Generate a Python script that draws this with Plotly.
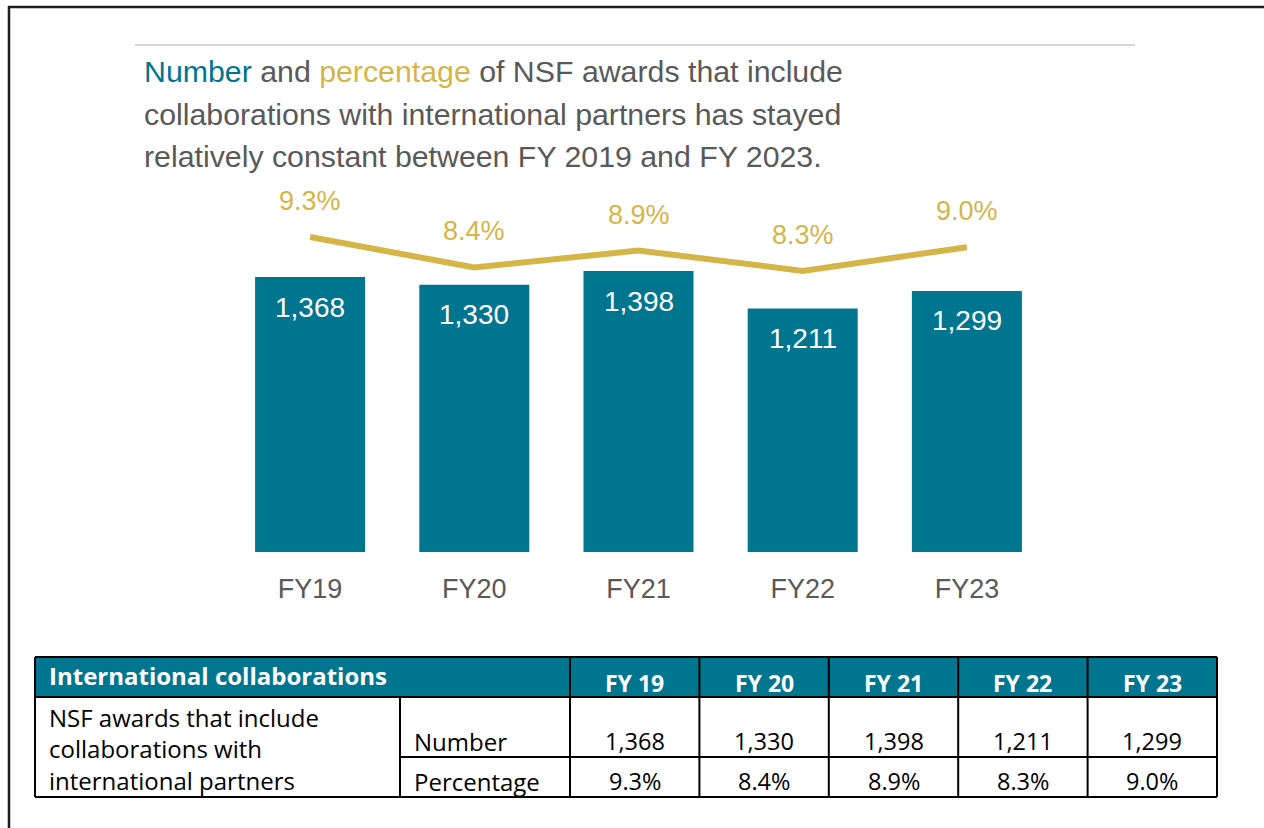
import plotly.graph_objects as go

# ---- data ----
categories = ["FY19", "FY20", "FY21", "FY22", "FY23"]
table_years = ["FY 19", "FY 20", "FY 21", "FY 22", "FY 23"]
award_counts = [1368, 1330, 1398, 1211, 1299]
award_pcts = [9.3, 8.4, 8.9, 8.3, 9.0]

W, H = 1264, 828
TEAL = "#00758F"
GOLD = "#D5B548"
GRAY = "#595959"
NARROW = "Liberation Sans, Arial, sans-serif"
TBLFONT = "Open Sans, Noto Sans, sans-serif"


def px(x):
    return x / W


def py(y):
    return 1 - y / H


fig = go.Figure()

fig.add_trace(go.Bar(
    x=categories, y=award_counts, marker=dict(color=TEAL, line=dict(width=0)),
    yaxis="y", hoverinfo="skip", showlegend=False,
))
fig.add_trace(go.Scatter(
    x=categories, y=award_pcts, mode="lines", yaxis="y2",
    line=dict(color=GOLD, width=6), hoverinfo="skip", showlegend=False,
))

annotations = []
# bar value labels
for c, v in zip(categories, award_counts):
    annotations.append(dict(
        x=c, y=v, xref="x", yref="y", yshift=-30, text=f"{v:,}", showarrow=False,
        font=dict(family=NARROW, size=28, color="white"), xanchor="center", yanchor="middle",
    ))
# percentage labels
for c, p in zip(categories, award_pcts):
    annotations.append(dict(
        x=c, y=p, xref="x", yref="y2", yshift=36, text=f"{p:.1f}%", showarrow=False,
        font=dict(family=NARROW, size=27, color=GOLD), xanchor="center", yanchor="middle",
    ))

# title
title_lines = [
    f"<span style='color:{TEAL}'>Number</span> and <span style='color:{GOLD}'>percentage</span> of NSF awards that include",
    "collaborations with international partners has stayed",
    "relatively constant between FY 2019 and FY 2023.",
]
for i, t in enumerate(title_lines):
    annotations.append(dict(
        x=px(142), y=py(72 + 42.5 * i), xref="paper", yref="paper", text=t, showarrow=False,
        font=dict(family=NARROW, size=30.3, color=GRAY), xanchor="left", yanchor="middle",
    ))

shapes = []
# outer frame
shapes.append(dict(type="line", xref="paper", yref="paper", x0=px(8), x1=px(1266), y0=py(7), y1=py(7),
                   line=dict(color="#1f1f1f", width=2.5)))
shapes.append(dict(type="line", xref="paper", yref="paper", x0=px(9), x1=px(9), y0=py(6), y1=py(830),
                   line=dict(color="#1f1f1f", width=2.5)))
# gray rule above title
shapes.append(dict(type="line", xref="paper", yref="paper", x0=px(135), x1=px(1135), y0=py(45), y1=py(45),
                   line=dict(color="#C9C9C9", width=1.5)))

# ---- table ----
T_L, T_R = 35, 1217
T_TOP, T_HDR, T_MID, T_BOT = 657, 697, 757, 797
C1, C2 = 400, 570
col_edges = [C2 + (T_R - C2) * i / 5 for i in range(6)]

shapes.append(dict(type="rect", xref="paper", yref="paper", x0=px(T_L), x1=px(T_R), y0=py(T_TOP), y1=py(T_HDR),
                   fillcolor=TEAL, line=dict(width=0), layer="below"))
BL = dict(color="black", width=2)


def hline(x0, x1, y):
    shapes.append(dict(type="line", xref="paper", yref="paper", x0=px(x0), x1=px(x1), y0=py(y), y1=py(y), line=BL))


def vline(x, y0, y1):
    shapes.append(dict(type="line", xref="paper", yref="paper", x0=px(x), x1=px(x), y0=py(y0), y1=py(y1), line=BL))


hline(T_L, T_R, T_TOP)
hline(T_L, T_R, T_HDR)
hline(C1, T_R, T_MID)
hline(T_L, T_R, T_BOT)
vline(T_L, T_TOP, T_BOT)
vline(T_R, T_TOP, T_BOT)
vline(C1, T_HDR, T_BOT)
for xe in col_edges[:-1]:
    vline(xe, T_TOP, T_BOT)

annotations.append(dict(
    x=px(47), y=py(675), xref="paper", yref="paper", text="<b>International collaborations</b>",
    showarrow=False, font=dict(family=TBLFONT, size=24, color="white"), xanchor="left", yanchor="middle",
))
for i, yl in enumerate(table_years):
    annotations.append(dict(
        x=px((col_edges[i] + col_edges[i + 1]) / 2), y=py(683), xref="paper", yref="paper",
        text=f"<b>{yl}</b>", showarrow=False, font=dict(family=TBLFONT, size=23, color="white"),
        xanchor="center", yanchor="middle",
    ))
row_label_lines = ["NSF awards that include", "collaborations with", "international partners"]
for i, t in enumerate(row_label_lines):
    annotations.append(dict(
        x=px(47), y=py(717 + 31.5 * i), xref="paper", yref="paper", text=t, showarrow=False,
        font=dict(family=TBLFONT, size=24, color="black"), xanchor="left", yanchor="middle",
    ))
for t, yy in [("Number", 741), ("Percentage", 781)]:
    annotations.append(dict(
        x=px(412), y=py(yy), xref="paper", yref="paper", text=t, showarrow=False,
        font=dict(family=TBLFONT, size=24, color="black"), xanchor="left", yanchor="middle",
    ))
for i in range(5):
    cx = px((col_edges[i] + col_edges[i + 1]) / 2)
    annotations.append(dict(
        x=cx, y=py(741), xref="paper", yref="paper", text=f"{award_counts[i]:,}", showarrow=False,
        font=dict(family=TBLFONT, size=23.5, color="black"), xanchor="center", yanchor="middle",
    ))
    annotations.append(dict(
        x=cx, y=py(781), xref="paper", yref="paper", text=f"{award_pcts[i]:.1f}%", showarrow=False,
        font=dict(family=TBLFONT, size=23.5, color="black"), xanchor="center", yanchor="middle",
    ))

# plot area geometry
P_TOP, P_BOT = 190, 552
X0, X1 = 228, 1049
K_BAR = 0.201      # px per award
K_PCT = 33.87      # px per percentage point
plot_h = P_BOT - P_TOP

fig.update_layout(
    width=W, height=H, autosize=False,
    margin=dict(l=0, r=0, t=0, b=0),
    paper_bgcolor="white", plot_bgcolor="rgba(0,0,0,0)",
    bargap=0.33,
    xaxis=dict(domain=[px(X0), px(X1)], range=[-0.5, 4.5], showgrid=False, zeroline=False, showline=False,
               ticks="", ticklabelstandoff=18, tickfont=dict(family=NARROW, size=27, color=GRAY)),
    yaxis=dict(domain=[py(P_BOT), py(P_TOP)], range=[0, plot_h / K_BAR], visible=False, showgrid=False),
    yaxis2=dict(domain=[py(P_BOT), py(P_TOP)], range=[0, plot_h / K_PCT], overlaying="y", visible=False,
                showgrid=False),
    annotations=annotations,
    shapes=shapes,
)

fig.write_html("out.html", config={"displayModeBar": False},
               post_script="document.body.style.margin='0';")
